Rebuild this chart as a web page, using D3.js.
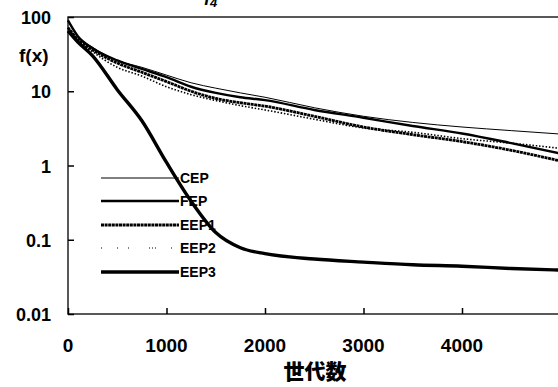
<!DOCTYPE html>
<html>
<head>
<meta charset="utf-8">
<script src="https://cdn.jsdelivr.net/npm/d3@7"></script>
<style>
  body { margin: 0; background: #fff; }
  text { font-family: "Liberation Sans", Arial, sans-serif; font-weight: bold; fill: #000; }
</style>
</head>
<body>
<div id="chart"></div>
<script>
// data (generation vs f(x), log scale)
var generations = [0, 100, 250, 500, 750, 1000, 1250, 1500, 1750, 2000, 2500, 3000, 3500, 4000, 4500, 5000];
var cep  = [92, 55, 39, 26, 21, 16.5, 13, 11, 9.5, 8.3, 6.0, 4.6, 3.8, 3.3, 2.95, 2.65];
var fep  = [90, 55, 38, 26, 20, 15.5, 11.5, 9.5, 8.3, 7.6, 5.6, 4.4, 3.4, 2.7, 2.0, 1.45];
var eep1 = [72, 50, 36, 24, 18, 13.5, 10, 8.0, 7.0, 6.3, 4.6, 3.3, 2.6, 2.1, 1.6, 1.15];
var eep2 = [72, 48, 34, 21, 16, 11.5, 9, 7.5, 6.4, 5.6, 4.2, 3.2, 2.8, 2.3, 2.0, 1.7];
var eep3 = [65, 46, 30, 10.5, 4.0, 1.1, 0.33, 0.125, 0.078, 0.065, 0.055, 0.05, 0.046, 0.044, 0.041, 0.039];
var seriesNames = ["CEP", "FEP", "EEP1", "EEP2", "EEP3"];
var xTicks = [0, 1000, 2000, 3000, 4000];
var yTicks = [100, 10, 1, 0.1, 0.01];

var svgWidth = 558;
var svgHeight = 387;

var svg = d3.select("#chart")
  .append("svg")
  .attr("width", svgWidth)
  .attr("height", svgHeight);

var xScale = d3.scaleLinear().domain([0, 5000]).range([68, 560.5]);
var yScale = d3.scaleLog().domain([0.01, 100]).range([314, 17]);

// title, mostly above the top of the picture
var title = svg.append("text")
  .attr("x", 204)
  .attr("y", 5)
  .style("font-size", "18px")
  .style("font-style", "italic");
title.append("tspan").text("f");
title.append("tspan").attr("dy", 2).style("font-size", "13px").text("4");

// frame
svg.append("rect")
  .attr("x", xScale(0))
  .attr("y", yScale(100))
  .attr("width", xScale(5000) - xScale(0))
  .attr("height", yScale(0.01) - yScale(100))
  .attr("fill", "none")
  .attr("stroke", "#222")
  .attr("stroke-width", 1.5);

// axes with inward ticks
var bottomAxis = d3.axisBottom(xScale).tickValues(xTicks).tickSize(-6).tickFormat("");
var leftAxis = d3.axisLeft(yScale).tickValues(yTicks).tickSize(-6).tickFormat("");

svg.append("g")
  .attr("transform", `translate(0, ${yScale(0.01)})`)
  .call(bottomAxis)
  .call(g => g.select(".domain").remove())
  .selectAll("line").attr("stroke", "#000").attr("stroke-width", 1.5);

svg.append("g")
  .attr("transform", `translate(${xScale(0)}, 0)`)
  .call(leftAxis)
  .call(g => g.select(".domain").remove())
  .selectAll("line").attr("stroke", "#000").attr("stroke-width", 1.5);

// tick labels
svg.selectAll(".xlab")
  .data(xTicks)
  .enter()
  .append("text")
  .attr("class", "xlab")
  .attr("x", d => xScale(d))
  .attr("y", 352)
  .attr("text-anchor", "middle")
  .style("font-size", "19px")
  .text(d => d);

svg.selectAll(".ylab")
  .data(yTicks)
  .enter()
  .append("text")
  .attr("class", "ylab")
  .attr("x", 51)
  .attr("y", d => yScale(d) + 7)
  .attr("text-anchor", "end")
  .style("font-size", "18px")
  .text(d => d);

svg.append("text")
  .attr("x", 19)
  .attr("y", 62)
  .style("font-size", "19px")
  .text("f(x)");

svg.append("text")
  .attr("x", 315)
  .attr("y", 379)
  .attr("text-anchor", "middle")
  .style("font-family", "'Noto Sans CJK JP', sans-serif")
  .style("font-size", "21px")
  .style("font-weight", "900")
  .text("世代数");

// line styles per series
var styles = {
  CEP:  { width: 1, dash: null, legendDash: null },
  FEP:  { width: 2.4, dash: null, legendDash: null },
  EEP1: { width: 2.8, dash: "3,0.6", legendDash: "3,0.6" },
  EEP2: { width: 1.6, dash: "1.5,1.8", legendDash: "1,15,1,10,1,20,1,2,1,2" },
  EEP3: { width: 3.4, dash: null, legendDash: null }
};
var allSeries = [cep, fep, eep1, eep2, eep3];

// legend
var legendY = [183, 206, 230, 253, 277];
seriesNames.forEach((name, i) => {
  var st = styles[name];
  svg.append("line")
    .attr("x1", 101)
    .attr("x2", 179)
    .attr("y1", legendY[i] - 5)
    .attr("y2", legendY[i] - 5)
    .attr("stroke", "#000")
    .attr("stroke-width", name == "EEP2" ? 1.2 : st.width)
    .attr("stroke-dasharray", st.legendDash);
  svg.append("text")
    .attr("x", 180)
    .attr("y", legendY[i])
    .style("font-size", "14px")
    .text(name);
});

// lines
var line = d3.line()
  .x((d, i) => xScale(generations[i]))
  .y(d => yScale(d))
  .curve(d3.curveMonotoneX);

allSeries.forEach((values, i) => {
  var st = styles[seriesNames[i]];
  svg.append("path")
    .datum(values)
    .attr("d", line)
    .attr("fill", "none")
    .attr("stroke", "#000")
    .attr("stroke-width", st.width)
    .attr("stroke-dasharray", st.dash);
});
</script>
</body>
</html>
